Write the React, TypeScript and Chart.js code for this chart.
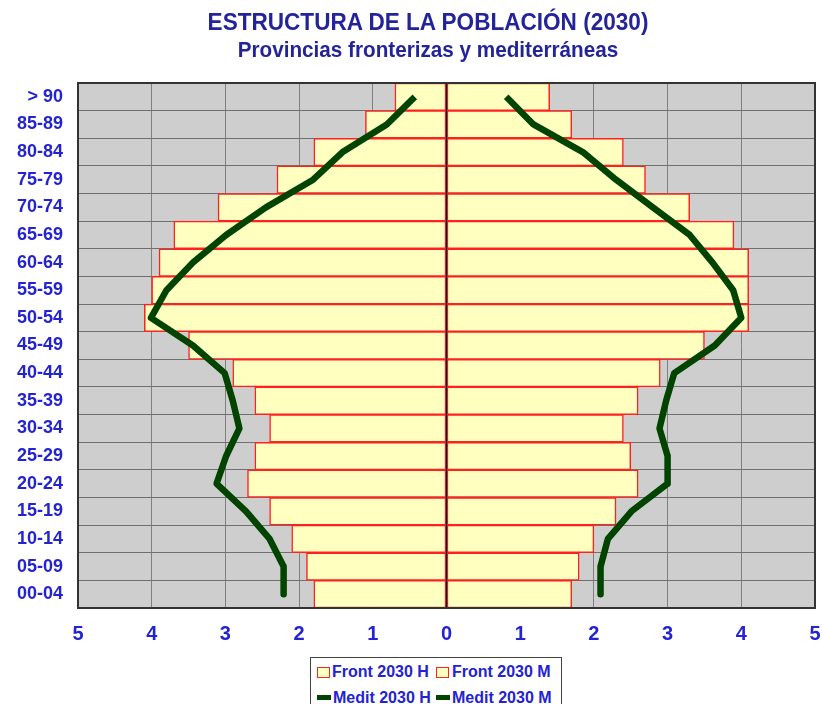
import React, { useEffect, useRef } from "react";
import { Chart, registerables } from "chart.js";

Chart.register(...registerables);

const ageGroups = ["> 90", "85-89", "80-84", "75-79", "70-74", "65-69", "60-64", "55-59", "50-54", "45-49", "40-44", "35-39", "30-34", "25-29", "20-24", "15-19", "10-14", "05-09", "00-04"];
const frontH = [0.7, 1.1, 1.8, 2.3, 3.1, 3.7, 3.9, 4.0, 4.1, 3.5, 2.9, 2.6, 2.4, 2.6, 2.7, 2.4, 2.1, 1.9, 1.8];
const frontM = [1.4, 1.7, 2.4, 2.7, 3.3, 3.9, 4.1, 4.1, 4.1, 3.5, 2.9, 2.6, 2.4, 2.5, 2.6, 2.3, 2.0, 1.8, 1.7];
const meditH = [0.43, 0.81, 1.41, 1.81, 2.45, 2.99, 3.44, 3.8, 4.01, 3.44, 3.01, 2.9, 2.81, 2.99, 3.12, 2.72, 2.4, 2.21, 2.21];
const meditM = [0.81, 1.18, 1.85, 2.3, 2.8, 3.3, 3.61, 3.89, 4.0, 3.64, 3.09, 2.98, 2.89, 3.0, 3.0, 2.51, 2.19, 2.09, 2.09];
const seriesNames = ["Front 2030 H", "Front 2030 M", "Medit 2030 H", "Medit 2030 M"];
const titleText = "ESTRUCTURA DE LA POBLACIÓN (2030)";
const subtitleText = "Provincias fronterizas y mediterráneas";

const FONT = "'Liberation Sans', Arial, sans-serif";
const BAR_FILL = "#ffffc0";
const BAR_BORDER = "#ff2020";
const LINE_COLOR = "#004400";
const TICK_COLOR = "#2323d2";
const TITLE_COLOR = "#24249a";

const plotDecor = {
  id: "plotDecor",
  beforeDraw(chart: any) {
    const { ctx, chartArea } = chart;
    ctx.save();
    ctx.fillStyle = "#cecece";
    ctx.fillRect(chartArea.left, chartArea.top, chartArea.right - chartArea.left, chartArea.bottom - chartArea.top);
    ctx.restore();
  },
  afterDatasetsDraw(chart: any) {
    const { ctx, chartArea, scales } = chart;
    const x0 = scales.x.getPixelForValue(0);
    ctx.save();
    ctx.strokeStyle = "#000";
    ctx.lineWidth = 1.2;
    ctx.beginPath();
    ctx.moveTo(x0, chartArea.top);
    ctx.lineTo(x0, chartArea.bottom);
    ctx.stroke();
    ctx.strokeStyle = "#333";
    ctx.lineWidth = 2;
    ctx.strokeRect(chartArea.left, chartArea.top, chartArea.right - chartArea.left, chartArea.bottom - chartArea.top);
    ctx.restore();
  },
};

export default function App() {
  const canvasRef = useRef<HTMLCanvasElement | null>(null);

  useEffect(() => {
    document.body.style.margin = "0";
    const canvas = canvasRef.current;
    if (!canvas) return;
    const lineStyle = {
      type: "line",
      indexAxis: "y",
      borderColor: LINE_COLOR,
      backgroundColor: LINE_COLOR,
      borderWidth: 6.5,
      pointRadius: 0,
      tension: 0,
      borderJoinStyle: "round",
      fill: false,
      order: 0,
    };
    const barStyle = {
      type: "bar",
      backgroundColor: BAR_FILL,
      borderColor: BAR_BORDER,
      borderWidth: 1.5,
      borderSkipped: false,
      grouped: false,
      barPercentage: 1,
      categoryPercentage: 1,
      order: 1,
    };
    const chart = new Chart(canvas, {
      type: "bar",
      data: {
        labels: ageGroups,
        datasets: [
          { ...lineStyle, label: seriesNames[2], data: meditH.map((v) => -v) } as any,
          { ...lineStyle, label: seriesNames[3], data: meditM } as any,
          { ...barStyle, label: seriesNames[0], data: frontH.map((v) => -v) } as any,
          { ...barStyle, label: seriesNames[1], data: frontM } as any,
        ],
      },
      options: {
        indexAxis: "y",
        animation: false,
        responsive: false,
        maintainAspectRatio: false,
        layout: { padding: { top: 83, right: 7, left: 0, bottom: 60 } },
        plugins: {
          legend: { display: false },
          tooltip: { enabled: false },
          title: { display: false },
        },
        scales: {
          x: {
            type: "linear",
            min: -5,
            max: 5,
            afterFit(scale: any) {
              scale.height = 36;
              scale.paddingLeft = 0;
              scale.paddingRight = 0;
            },
            ticks: {
              stepSize: 1,
              padding: 14,
              color: TICK_COLOR,
              font: { family: FONT, size: 20, weight: "bold" },
              callback: (v: any) => String(Math.abs(Number(v))),
            },
            grid: { color: "#808080", lineWidth: 1, drawTicks: false },
            border: { display: false },
          },
          y: {
            type: "category",
            offset: true,
            afterFit(scale: any) {
              scale.width = 78;
              scale.paddingTop = 0;
              scale.paddingBottom = 0;
            },
            ticks: {
              padding: 15,
              color: TICK_COLOR,
              font: { family: FONT, size: 18, weight: "bold" },
            },
            grid: { color: "#707070", lineWidth: 1, drawTicks: false, offset: true },
            border: { display: false },
          },
        },
      } as any,
      plugins: [plotDecor],
    });
    return () => chart.destroy();
  }, []);

  const legendText: React.CSSProperties = {
    position: "absolute",
    fontFamily: FONT,
    fontWeight: "bold",
    fontSize: 16,
    color: TICK_COLOR,
    whiteSpace: "nowrap",
    lineHeight: "18px",
  };

  return (
    <div style={{ position: "relative", width: 822, height: 704, overflow: "hidden", background: "#fff" }}>
      <canvas ref={canvasRef} width={822} height={704} style={{ position: "absolute", left: 0, top: 0, width: 822, height: 704 }} />
      <div style={{ position: "absolute", left: 0, width: 856, top: 8, textAlign: "center", fontFamily: FONT, fontWeight: "bold", color: TITLE_COLOR }}>
        <div style={{ fontSize: 24, lineHeight: "28px", transform: "scaleX(0.94)" }}>{titleText}</div>
        <div style={{ fontSize: 22, lineHeight: "28px", transform: "scaleX(0.94)" }}>{subtitleText}</div>
      </div>
      <div style={{ position: "absolute", left: 310, top: 657, width: 250, height: 60, border: "1.5px solid #444", background: "#fff" }}>
        <div style={{ position: "absolute", left: 6, top: 9, width: 11, height: 9, border: `1.5px solid ${BAR_BORDER}`, background: BAR_FILL }} />
        <div style={{ ...legendText, left: 21, top: 5 }}>{seriesNames[0]}</div>
        <div style={{ position: "absolute", left: 125, top: 9, width: 11, height: 9, border: `1.5px solid ${BAR_BORDER}`, background: BAR_FILL }} />
        <div style={{ ...legendText, left: 141, top: 5 }}>{seriesNames[1]}</div>
        <div style={{ position: "absolute", left: 6, top: 37, width: 14, height: 5, background: LINE_COLOR }} />
        <div style={{ ...legendText, left: 22, top: 31 }}>{seriesNames[2]}</div>
        <div style={{ position: "absolute", left: 125, top: 37, width: 14, height: 5, background: LINE_COLOR }} />
        <div style={{ ...legendText, left: 141, top: 31 }}>{seriesNames[3]}</div>
      </div>
    </div>
  );
}
